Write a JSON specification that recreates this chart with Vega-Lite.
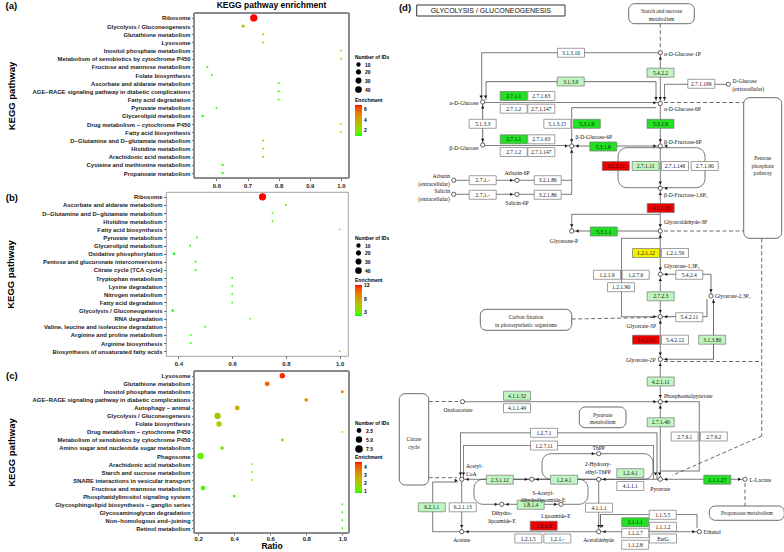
{
  "$schema": "https://vega.github.io/schema/vega-lite/v6.json",
  "padding": {"left": 5, "top": 0, "right": 0, "bottom": 0},
  "background": "white",
  "config": {
    "font": "Liberation Sans",
    "view": {"stroke": "#8a8a8a", "strokeWidth": 0.8},
    "axis": {"labelFont": "Liberation Sans", "labelFontWeight": "bold", "labelFontSize": 5.9, "labelColor": "#1a1a1a", "tickSize": 2.5, "tickColor": "#333", "tickWidth": 0.7, "domain": false, "grid": false, "titleFont": "Liberation Sans", "titleFontWeight": "bold", "titleFontSize": 9.5, "titleColor": "#000", "labelPadding": 1.5},
    "legend": {"titleFontSize": 5, "labelFontSize": 5, "titleFontWeight": "bold", "labelFontWeight": "bold", "titlePadding": 2, "gradientThickness": 7, "gradientLength": 31, "gradientStrokeWidth": 0, "rowPadding": -4.5, "labelOffset": 3, "symbolOffset": 0},
    "title": {"font": "Liberation Sans", "fontWeight": "bold", "fontSize": 9.5, "color": "#000"}
  },
  "datasets": {
    "a": [
      {"pathway": "Ribosome", "ratio": 0.72, "ids": 80, "enrichment": 6.8},
      {"pathway": "Glycolysis / Gluconeogenesis", "ratio": 0.686, "ids": 14, "enrichment": 2.6},
      {"pathway": "Glutathione metabolism", "ratio": 0.75, "ids": 3, "enrichment": 1.3},
      {"pathway": "Lysosome", "ratio": 0.75, "ids": 3, "enrichment": 1.3},
      {"pathway": "Inositol phosphate metabolism", "ratio": 1.0, "ids": 2, "enrichment": 1.6},
      {"pathway": "Metabolism of xenobiotics by cytochrome P450", "ratio": 1.0, "ids": 2, "enrichment": 1.6},
      {"pathway": "Fructose and mannose metabolism", "ratio": 0.571, "ids": 4, "enrichment": 1.0},
      {"pathway": "Folate biosynthesis", "ratio": 0.585, "ids": 4, "enrichment": 1.0},
      {"pathway": "Ascorbate and aldarate metabolism", "ratio": 0.8, "ids": 4, "enrichment": 1.3},
      {"pathway": "AGE−RAGE signaling pathway in diabetic complications", "ratio": 0.8, "ids": 4, "enrichment": 1.3},
      {"pathway": "Fatty acid degradation", "ratio": 0.8, "ids": 4, "enrichment": 1.3},
      {"pathway": "Pyruvate metabolism", "ratio": 0.6, "ids": 3, "enrichment": 1.0},
      {"pathway": "Glycerolipid metabolism", "ratio": 0.556, "ids": 5, "enrichment": 0.9},
      {"pathway": "Drug metabolism − cytochrome P450", "ratio": 1.0, "ids": 2, "enrichment": 1.6},
      {"pathway": "Fatty acid biosynthesis", "ratio": 1.0, "ids": 2, "enrichment": 1.6},
      {"pathway": "D−Glutamine and D−glutamate metabolism", "ratio": 0.75, "ids": 3, "enrichment": 1.3},
      {"pathway": "Histidine metabolism", "ratio": 0.75, "ids": 3, "enrichment": 1.3},
      {"pathway": "Arachidonic acid metabolism", "ratio": 0.75, "ids": 3, "enrichment": 1.3},
      {"pathway": "Cysteine and methionine metabolism", "ratio": 0.62, "ids": 5, "enrichment": 1.0},
      {"pathway": "Propanoate metabolism", "ratio": 0.62, "ids": 5, "enrichment": 1.0}
    ],
    "b": [
      {"pathway": "Ribosome", "ratio": 0.713, "ids": 80, "enrichment": 12.6},
      {"pathway": "Ascorbate and aldarate metabolism", "ratio": 0.8, "ids": 4, "enrichment": 2.0},
      {"pathway": "D−Glutamine and D−glutamate metabolism", "ratio": 0.75, "ids": 3, "enrichment": 1.9},
      {"pathway": "Histidine metabolism", "ratio": 0.75, "ids": 3, "enrichment": 1.9},
      {"pathway": "Fatty acid biosynthesis", "ratio": 1.0, "ids": 2, "enrichment": 2.5},
      {"pathway": "Pyruvate metabolism", "ratio": 0.469, "ids": 4, "enrichment": 1.2},
      {"pathway": "Glycerolipid metabolism", "ratio": 0.444, "ids": 4, "enrichment": 1.1},
      {"pathway": "Oxidative phosphorylation", "ratio": 0.384, "ids": 8, "enrichment": 1.0},
      {"pathway": "Pentose and glucuronate interconversions", "ratio": 0.464, "ids": 4, "enrichment": 1.2},
      {"pathway": "Citrate cycle (TCA cycle)", "ratio": 0.464, "ids": 4, "enrichment": 1.2},
      {"pathway": "Tryptophan metabolism", "ratio": 0.6, "ids": 3, "enrichment": 1.5},
      {"pathway": "Lysine degradation", "ratio": 0.6, "ids": 3, "enrichment": 1.5},
      {"pathway": "Nitrogen metabolism", "ratio": 0.6, "ids": 3, "enrichment": 1.5},
      {"pathway": "Fatty acid degradation", "ratio": 0.6, "ids": 3, "enrichment": 1.5},
      {"pathway": "Glycolysis / Gluconeogenesis", "ratio": 0.379, "ids": 7, "enrichment": 1.0},
      {"pathway": "RNA degradation", "ratio": 0.667, "ids": 2, "enrichment": 1.7},
      {"pathway": "Valine, leucine and isoleucine degradation", "ratio": 0.5, "ids": 3, "enrichment": 1.3},
      {"pathway": "Arginine and proline metabolism", "ratio": 0.446, "ids": 3, "enrichment": 1.1},
      {"pathway": "Arginine biosynthesis", "ratio": 0.446, "ids": 3, "enrichment": 1.1},
      {"pathway": "Biosynthesis of unsaturated fatty acids", "ratio": 1.0, "ids": 2, "enrichment": 2.5}
    ],
    "c": [
      {"pathway": "Lysosome", "ratio": 0.667, "ids": 6, "enrichment": 4.5},
      {"pathway": "Glutathione metabolism", "ratio": 0.583, "ids": 5, "enrichment": 3.9},
      {"pathway": "Inositol phosphate metabolism", "ratio": 1.0, "ids": 2, "enrichment": 3.6},
      {"pathway": "AGE−RAGE signaling pathway in diabetic complications", "ratio": 0.8, "ids": 3, "enrichment": 3.0},
      {"pathway": "Autophagy − animal", "ratio": 0.417, "ids": 5, "enrichment": 2.5},
      {"pathway": "Glycolysis / Gluconeogenesis", "ratio": 0.308, "ids": 8, "enrichment": 2.2},
      {"pathway": "Folate biosynthesis", "ratio": 0.316, "ids": 6, "enrichment": 2.0},
      {"pathway": "Drug metabolism − cytochrome P450", "ratio": 1.0, "ids": 1, "enrichment": 1.5},
      {"pathway": "Metabolism of xenobiotics by cytochrome P450", "ratio": 0.667, "ids": 2, "enrichment": 1.2},
      {"pathway": "Amino sugar and nucleotide sugar metabolism", "ratio": 0.333, "ids": 3, "enrichment": 1.4},
      {"pathway": "Phagosome", "ratio": 0.213, "ids": 8, "enrichment": 1.1},
      {"pathway": "Arachidonic acid metabolism", "ratio": 0.5, "ids": 1, "enrichment": 1.1},
      {"pathway": "Starch and sucrose metabolism", "ratio": 0.5, "ids": 1, "enrichment": 1.1},
      {"pathway": "SNARE interactions in vesicular transport", "ratio": 0.5, "ids": 1, "enrichment": 1.1},
      {"pathway": "Fructose and mannose metabolism", "ratio": 0.227, "ids": 5, "enrichment": 1.0},
      {"pathway": "Phosphatidylinositol signaling system", "ratio": 0.4, "ids": 2, "enrichment": 0.9},
      {"pathway": "Glycosphingolipid biosynthesis − ganglio series", "ratio": 1.0, "ids": 1, "enrichment": 0.8},
      {"pathway": "Glycosaminoglycan degradation", "ratio": 1.0, "ids": 1, "enrichment": 0.8},
      {"pathway": "Non−homologous end−joining", "ratio": 1.0, "ids": 1, "enrichment": 0.8},
      {"pathway": "Retinol metabolism", "ratio": 1.0, "ids": 1, "enrichment": 0.8}
    ],
    "enz": [
      {"ec": "3.1.3.10", "x": 175, "y": 51.8, "s": "none"},
      {"ec": "5.4.2.2", "x": 264.5, "y": 71.7, "s": "light"},
      {"ec": "3.1.3.9", "x": 174.7, "y": 80.5, "s": "light"},
      {"ec": "2.7.1.199", "x": 305.3, "y": 82.8, "s": "none"},
      {"ec": "2.7.1.1", "x": 117.7, "y": 95, "s": "strong"},
      {"ec": "2.7.1.63", "x": 145.3, "y": 95, "s": "none"},
      {"ec": "2.7.1.2", "x": 117.7, "y": 107.7, "s": "none"},
      {"ec": "2.7.1.147", "x": 145.3, "y": 107.7, "s": "none"},
      {"ec": "5.1.3.3", "x": 86.7, "y": 122.8, "s": "none"},
      {"ec": "5.1.3.15", "x": 161.3, "y": 122.8, "s": "none"},
      {"ec": "5.3.1.9", "x": 190.8, "y": 122.8, "s": "strong"},
      {"ec": "5.3.1.9", "x": 264.5, "y": 122.8, "s": "strong"},
      {"ec": "2.7.1.1", "x": 117.7, "y": 138.3, "s": "strong"},
      {"ec": "2.7.1.63", "x": 145.3, "y": 138.3, "s": "none"},
      {"ec": "2.7.1.2", "x": 117.7, "y": 151, "s": "none"},
      {"ec": "2.7.1.147", "x": 145.3, "y": 151, "s": "none"},
      {"ec": "5.3.1.9", "x": 207.3, "y": 145.5, "s": "strong"},
      {"ec": "3.1.3.11", "x": 219.8, "y": 165, "s": "red"},
      {"ec": "2.7.1.11", "x": 249.7, "y": 165, "s": "light"},
      {"ec": "2.7.1.146", "x": 279, "y": 165, "s": "none"},
      {"ec": "2.7.1.90", "x": 308.7, "y": 165, "s": "none"},
      {"ec": "2.7.1.-", "x": 86.7, "y": 179.2, "s": "none"},
      {"ec": "3.2.1.86", "x": 151.7, "y": 179.2, "s": "none"},
      {"ec": "2.7.1.-", "x": 86.7, "y": 193.8, "s": "none"},
      {"ec": "3.2.1.86", "x": 151.7, "y": 193.8, "s": "none"},
      {"ec": "4.1.2.13", "x": 264.7, "y": 207, "s": "red"},
      {"ec": "5.3.1.1", "x": 207.8, "y": 230.5, "s": "strong"},
      {"ec": "1.2.1.12", "x": 250, "y": 252, "s": "yellow"},
      {"ec": "1.2.1.59", "x": 279, "y": 252, "s": "none"},
      {"ec": "1.2.1.9", "x": 211, "y": 273.8, "s": "none"},
      {"ec": "1.2.7.6", "x": 239.7, "y": 273.8, "s": "none"},
      {"ec": "5.4.2.4", "x": 293.3, "y": 273.8, "s": "none"},
      {"ec": "1.2.1.90", "x": 225, "y": 286.2, "s": "none"},
      {"ec": "2.7.2.3", "x": 264.7, "y": 295.3, "s": "light"},
      {"ec": "5.4.2.11", "x": 293.3, "y": 316.2, "s": "none"},
      {"ec": "5.4.2.11", "x": 250, "y": 338.7, "s": "red"},
      {"ec": "5.4.2.12", "x": 279, "y": 338.7, "s": "none"},
      {"ec": "3.1.3.80", "x": 316.2, "y": 338.7, "s": "light"},
      {"ec": "4.2.1.11", "x": 264.7, "y": 380.5, "s": "light"},
      {"ec": "4.1.1.32", "x": 121, "y": 394.7, "s": "light"},
      {"ec": "4.1.1.49", "x": 121, "y": 407.2, "s": "none"},
      {"ec": "2.7.1.40", "x": 264.7, "y": 421.3, "s": "light"},
      {"ec": "2.7.9.1", "x": 288.7, "y": 435.5, "s": "none"},
      {"ec": "2.7.9.2", "x": 317.8, "y": 435.5, "s": "none"},
      {"ec": "1.2.7.1", "x": 148, "y": 431.8, "s": "none"},
      {"ec": "1.2.7.11", "x": 148, "y": 444.5, "s": "none"},
      {"ec": "1.2.4.1", "x": 234.3, "y": 472.2, "s": "light"},
      {"ec": "4.1.1.1", "x": 234.3, "y": 485, "s": "none"},
      {"ec": "1.1.1.27", "x": 321.3, "y": 478.7, "s": "strong"},
      {"ec": "2.3.1.12", "x": 103.8, "y": 478.7, "s": "light"},
      {"ec": "1.2.4.1", "x": 168, "y": 478.7, "s": "light"},
      {"ec": "1.8.1.4", "x": 134.7, "y": 503.8, "s": "light"},
      {"ec": "4.1.1.1", "x": 203, "y": 506.7, "s": "none"},
      {"ec": "6.2.1.1", "x": 35.8, "y": 506.3, "s": "light"},
      {"ec": "6.2.1.13", "x": 66.7, "y": 506.3, "s": "none"},
      {"ec": "1.2.1.3", "x": 147.7, "y": 524.7, "s": "red"},
      {"ec": "1.2.1.5", "x": 132.3, "y": 537.5, "s": "none"},
      {"ec": "1.2.1.-", "x": 161.3, "y": 537.5, "s": "none"},
      {"ec": "1.1.5.5", "x": 266.7, "y": 513.8, "s": "none"},
      {"ec": "1.1.1.1", "x": 239.2, "y": 521.3, "s": "strong"},
      {"ec": "1.1.1.2", "x": 267, "y": 525.8, "s": "none"},
      {"ec": "1.1.2.7", "x": 239.2, "y": 532.2, "s": "none"},
      {"ec": "EutG", "x": 267, "y": 537.5, "s": "none"},
      {"ec": "1.1.2.8", "x": 239.2, "y": 543.8, "s": "none"}
    ],
    "cmp": [
      {"name": "α-D-Glucose-1P", "x": 264.3, "y": 51.7}, {"name": "D-Glucose ext", "x": 332.3, "y": 83.3},
      {"name": "α-D-Glucose", "x": 86.7, "y": 101}, {"name": "α-D-Glucose-6P", "x": 264.3, "y": 102.5},
      {"name": "β-D-Glucose", "x": 86.7, "y": 144}, {"name": "β-D-Glucose-6P", "x": 175.7, "y": 145},
      {"name": "β-D-Fructose-6P", "x": 264.3, "y": 145}, {"name": "Arbutin", "x": 57.7, "y": 179.3},
      {"name": "Arbutin-6P", "x": 121, "y": 179.3}, {"name": "Salicin", "x": 57.7, "y": 193.3},
      {"name": "Salicin-6P", "x": 121, "y": 193.3}, {"name": "β-D-Fructose-1,6P2", "x": 264.3, "y": 187.3},
      {"name": "Glyceraldehyde-3P", "x": 264.3, "y": 230}, {"name": "Glycerone-P", "x": 175.7, "y": 230},
      {"name": "Glycerate-1,3P2", "x": 264.3, "y": 273.3}, {"name": "Glycerate-2,3P2", "x": 315, "y": 295},
      {"name": "Glycerate-3P", "x": 264.3, "y": 315.7}, {"name": "Glycerate-2P", "x": 264.3, "y": 358.3},
      {"name": "Phosphoenolpyruvate", "x": 264.3, "y": 400.7}, {"name": "Oxaloacetate", "x": 66.5, "y": 400.7},
      {"name": "ThPP", "x": 202.7, "y": 452.7}, {"name": "2-Hydroxy-ethyl-ThPP", "x": 202.7, "y": 478.3},
      {"name": "Pyruvate", "x": 264.3, "y": 478.3}, {"name": "L-Lactate", "x": 349, "y": 478.3},
      {"name": "Acetyl-CoA", "x": 65.7, "y": 478.3}, {"name": "S-Acetyl-dihydrolipoamide-E", "x": 135.7, "y": 478.3},
      {"name": "Dihydrolipoamide-E", "x": 105.7, "y": 503.3}, {"name": "Lipoamide-E", "x": 165, "y": 503.3},
      {"name": "Acetate", "x": 65.7, "y": 530.7}, {"name": "Acetaldehyde", "x": 202.7, "y": 530.7},
      {"name": "Ethanol", "x": 303.3, "y": 530.7}
    ],
    "arr": [
      {"x": 85.2, "y": 96, "d": "down"}, {"x": 89.5, "y": 96, "d": "down"},
      {"x": 264.3, "y": 57, "d": "up"},
      {"x": 260, "y": 97.5, "d": "down"}, {"x": 264.3, "y": 97.5, "d": "down"}, {"x": 268.5, "y": 97.5, "d": "down"},
      {"x": 258.8, "y": 101.8, "d": "right"},
      {"x": 86.7, "y": 106, "d": "up"}, {"x": 86.7, "y": 139.3, "d": "down"},
      {"x": 170.3, "y": 145, "d": "right"}, {"x": 181.2, "y": 145, "d": "left"}, {"x": 175.7, "y": 139.8, "d": "down"}, {"x": 175.7, "y": 150.3, "d": "up"},
      {"x": 258.8, "y": 145, "d": "right"}, {"x": 264.3, "y": 139.8, "d": "down"}, {"x": 269.8, "y": 145, "d": "left"},
      {"x": 264.3, "y": 182, "d": "down"}, {"x": 269.8, "y": 187.3, "d": "left"}, {"x": 264.3, "y": 192.6, "d": "up"},
      {"x": 115.6, "y": 179.3, "d": "right"}, {"x": 115.6, "y": 193.3, "d": "right"},
      {"x": 264.3, "y": 224.8, "d": "down"}, {"x": 264.3, "y": 235.3, "d": "up"},
      {"x": 181.2, "y": 230, "d": "left"}, {"x": 175.7, "y": 224.8, "d": "down"},
      {"x": 264.3, "y": 268, "d": "down"}, {"x": 264.3, "y": 278.6, "d": "up"}, {"x": 269.8, "y": 273.3, "d": "left"},
      {"x": 315, "y": 289.8, "d": "down"}, {"x": 317.5, "y": 300.3, "d": "up"},
      {"x": 264.3, "y": 310.4, "d": "down"}, {"x": 264.3, "y": 321, "d": "up"}, {"x": 269.8, "y": 315.7, "d": "left"}, {"x": 258.8, "y": 315.7, "d": "right"},
      {"x": 264.3, "y": 353, "d": "down"}, {"x": 264.3, "y": 363.6, "d": "up"}, {"x": 269.8, "y": 358.3, "d": "left"},
      {"x": 264.3, "y": 395.4, "d": "down"}, {"x": 264.3, "y": 406, "d": "up"}, {"x": 258.8, "y": 400.7, "d": "right"}, {"x": 269.8, "y": 400.7, "d": "left"},
      {"x": 259.5, "y": 473, "d": "down"}, {"x": 263.5, "y": 473, "d": "down"}, {"x": 269.8, "y": 478.3, "d": "left"},
      {"x": 343.5, "y": 478.3, "d": "right"},
      {"x": 64.5, "y": 473, "d": "down"}, {"x": 67.5, "y": 473, "d": "down"}, {"x": 71.2, "y": 478.3, "d": "left"}, {"x": 60.2, "y": 479.5, "d": "right"},
      {"x": 130.2, "y": 478.3, "d": "right"}, {"x": 141.2, "y": 478.3, "d": "left"},
      {"x": 208.2, "y": 478.3, "d": "left"}, {"x": 197.2, "y": 452.7, "d": "right"},
      {"x": 100.2, "y": 503.3, "d": "right"}, {"x": 111.2, "y": 503.3, "d": "left"}, {"x": 159.5, "y": 503.3, "d": "right"},
      {"x": 65.7, "y": 525.4, "d": "down"}, {"x": 71.2, "y": 530.7, "d": "left"},
      {"x": 202.7, "y": 525.4, "d": "down"}, {"x": 206, "y": 525.4, "d": "down"}, {"x": 208.2, "y": 530.7, "d": "left"},
      {"x": 297.8, "y": 530.7, "d": "right"}
    ],
    "lbl": [
      {"t": "α-D-Glucose-1P", "x": 268, "y": 52.5, "al": "left"},
      {"t": "D-Glucose\n(extracellular)", "x": 336.5, "y": 80, "al": "left"},
      {"t": "α-D-Glucose", "x": 82.5, "y": 101.5, "al": "right"},
      {"t": "α-D-Glucose-6P", "x": 268, "y": 108.3, "al": "left"},
      {"t": "β-D-Glucose", "x": 82.5, "y": 146.5, "al": "right"},
      {"t": "β-D-Glucose-6P", "x": 179.5, "y": 135.5, "al": "left"},
      {"t": "β-D-Fructose-6P", "x": 268, "y": 140.5, "al": "left"},
      {"t": "Arbutin\n(extracellular)", "x": 54, "y": 175, "al": "right"},
      {"t": "Arbutin-6P", "x": 121, "y": 172, "al": "center"},
      {"t": "Salicin\n(extracellular)", "x": 54, "y": 190, "al": "right"},
      {"t": "Salicin-6P", "x": 121, "y": 201.5, "al": "center"},
      {"t": "β-D-Fructose-1,6P₂", "x": 268, "y": 193.5, "al": "left"},
      {"t": "Glyceraldehyde-3P", "x": 268, "y": 221, "al": "left"},
      {"t": "Glycerone-P", "x": 168, "y": 239.5, "al": "center"},
      {"t": "Glycerate-1,3P₂", "x": 268, "y": 265, "al": "left"},
      {"t": "Glycerate-2,3P₂", "x": 319, "y": 295, "al": "left"},
      {"t": "Glycerate-3P", "x": 260, "y": 325, "al": "right"},
      {"t": "Glycerate-2P", "x": 259.5, "y": 358.5, "al": "right"},
      {"t": "Phosphoenolpyruvate", "x": 268, "y": 394.5, "al": "left"},
      {"t": "Oxaloacetate", "x": 62, "y": 408.5, "al": "center"},
      {"t": "ThPP", "x": 202.7, "y": 446.5, "al": "center"},
      {"t": "2-Hydroxy-\nethyl-ThPP", "x": 202, "y": 463, "al": "center"},
      {"t": "Pyruvate", "x": 264.3, "y": 487.5, "al": "center"},
      {"t": "L-Lactate", "x": 353.5, "y": 478.5, "al": "left"},
      {"t": "Acetyl-\nCoA", "x": 70, "y": 465, "al": "left"},
      {"t": "S-Acetyl-\ndihydrolipoamide-E", "x": 147, "y": 491.7, "al": "center"},
      {"t": "Dihydro-\nlipoamide-E", "x": 106, "y": 512, "al": "center"},
      {"t": "Lipoamide-E", "x": 160, "y": 515, "al": "center"},
      {"t": "Acetate", "x": 65.7, "y": 538.5, "al": "center"},
      {"t": "Acetaldehyde", "x": 202.7, "y": 538.8, "al": "center"},
      {"t": "Ethanol", "x": 307.5, "y": 531, "al": "left"}
    ],
    "maps": [
      {"t": "Starch and sucrose\nmetabolism", "x": 232.7, "x2": 298.3, "y": 2.7, "y2": 22.7, "cx": 265.5, "cy": 10},
      {"t": "Pentose\nphosphate\npathway", "x": 347.7, "x2": 385.7, "y": 96.7, "y2": 237.3, "cx": 366.7, "cy": 157},
      {"t": "Carbon fixation\nin photosynthetic organisms", "x": 84.3, "x2": 175.7, "y": 308.3, "y2": 329.3, "cx": 130, "cy": 316},
      {"t": "Citrate\ncycle", "x": 3.3, "x2": 32.7, "y": 392.7, "y2": 484, "cx": 18, "cy": 438},
      {"t": "Pyruvate\nmetabolism", "x": 183.3, "x2": 230, "y": 406, "y2": 426.7, "cx": 206.7, "cy": 413.5},
      {"t": "Propanoate metabolism", "x": 313.3, "x2": 388.3, "y": 505, "y2": 519.3, "cx": 350.8, "cy": 512.2}
    ],
    "tbox": [
      {"t": "GLYCOLYSIS / GLUCONEOGENESIS", "x": 20.7, "x2": 169, "y": 4, "y2": 15, "cx": 94.8, "cy": 9.7}
    ],
    "plabel": [
      {"t": "(d)", "x": 9, "y": 6.5}
    ],
    "loops": [
      {"x": 222, "x2": 309, "y": 146.7, "y2": 186.7},
      {"x": 146, "x2": 257, "y": 452.7, "y2": 478.3},
      {"x": 78, "x2": 192, "y": 478.3, "y2": 503.3}
    ],
    "lines": [
      {"x": 264.3, "y": 51.7, "x2": 264.3, "y2": 478.3, "t": "solid"},
      {"x": 264.3, "y": 51.7, "x2": 85.7, "y2": 51.7, "t": "solid"},
      {"x": 85.7, "y": 51.7, "x2": 85.7, "y2": 99, "t": "solid"},
      {"x": 90, "y": 80.7, "x2": 260, "y2": 80.7, "t": "solid"},
      {"x": 90, "y": 80.7, "x2": 90, "y2": 99, "t": "solid"},
      {"x": 260, "y": 80.7, "x2": 260, "y2": 100, "t": "solid"},
      {"x": 332.3, "y": 83.3, "x2": 268.5, "y2": 83.3, "t": "solid"},
      {"x": 268.5, "y": 83.3, "x2": 268.5, "y2": 100, "t": "solid"},
      {"x": 86.7, "y": 101.5, "x2": 264.3, "y2": 101.5, "t": "solid"},
      {"x": 86.7, "y": 101, "x2": 86.7, "y2": 144, "t": "solid"},
      {"x": 86.7, "y": 144.5, "x2": 175.7, "y2": 144.5, "t": "solid"},
      {"x": 175.7, "y": 145, "x2": 264.3, "y2": 145, "t": "solid"},
      {"x": 260, "y": 106.7, "x2": 175.7, "y2": 106.7, "t": "solid"},
      {"x": 175.7, "y": 106.7, "x2": 175.7, "y2": 193.3, "t": "solid"},
      {"x": 57.7, "y": 179.3, "x2": 175.7, "y2": 179.3, "t": "solid"},
      {"x": 57.7, "y": 193.3, "x2": 175.7, "y2": 193.3, "t": "solid"},
      {"x": 175.7, "y": 230, "x2": 264.3, "y2": 230, "t": "solid"},
      {"x": 175.7, "y": 213.3, "x2": 264.3, "y2": 213.3, "t": "solid"},
      {"x": 175.7, "y": 213.3, "x2": 175.7, "y2": 230, "t": "solid"},
      {"x": 264.3, "y": 237.3, "x2": 225.5, "y2": 237.3, "t": "solid"},
      {"x": 225.5, "y": 237.3, "x2": 225.5, "y2": 315.7, "t": "solid"},
      {"x": 225.5, "y": 315.7, "x2": 264.3, "y2": 315.7, "t": "solid"},
      {"x": 264.3, "y": 273.3, "x2": 315, "y2": 273.3, "t": "solid"},
      {"x": 315, "y": 273.3, "x2": 315, "y2": 295, "t": "solid"},
      {"x": 311, "y": 298, "x2": 311, "y2": 315.7, "t": "solid"},
      {"x": 311, "y": 315.7, "x2": 264.3, "y2": 315.7, "t": "solid"},
      {"x": 317.5, "y": 298, "x2": 317.5, "y2": 358.3, "t": "solid"},
      {"x": 317.5, "y": 358.3, "x2": 264.3, "y2": 358.3, "t": "solid"},
      {"x": 66.5, "y": 400.7, "x2": 264.3, "y2": 400.7, "t": "solid"},
      {"x": 264.3, "y": 400.7, "x2": 303.3, "y2": 400.7, "t": "solid"},
      {"x": 303.3, "y": 400.7, "x2": 303.3, "y2": 470, "t": "solid"},
      {"x": 303.3, "y": 470, "x2": 264.3, "y2": 470, "t": "solid"},
      {"x": 64.5, "y": 431.8, "x2": 261, "y2": 431.8, "t": "solid"},
      {"x": 64.5, "y": 431.8, "x2": 64.5, "y2": 478.3, "t": "solid"},
      {"x": 261, "y": 431.8, "x2": 261, "y2": 478.3, "t": "solid"},
      {"x": 67.5, "y": 444.5, "x2": 257.5, "y2": 444.5, "t": "solid"},
      {"x": 67.5, "y": 444.5, "x2": 67.5, "y2": 478.3, "t": "solid"},
      {"x": 257.5, "y": 444.5, "x2": 257.5, "y2": 478.3, "t": "solid"},
      {"x": 65.7, "y": 478.3, "x2": 349, "y2": 478.3, "t": "solid"},
      {"x": 65.7, "y": 478.3, "x2": 65.7, "y2": 530.7, "t": "solid"},
      {"x": 65.7, "y": 530.7, "x2": 36.7, "y2": 530.7, "t": "solid"},
      {"x": 36.7, "y": 530.7, "x2": 36.7, "y2": 481, "t": "solid"},
      {"x": 36.7, "y": 481, "x2": 62, "y2": 481, "t": "solid"},
      {"x": 65.7, "y": 530.7, "x2": 303.3, "y2": 530.7, "t": "solid"},
      {"x": 202.7, "y": 478.3, "x2": 202.7, "y2": 530.7, "t": "solid"},
      {"x": 204.5, "y": 527, "x2": 204.5, "y2": 513.5, "t": "solid"},
      {"x": 204.5, "y": 513.5, "x2": 301, "y2": 513.5, "t": "solid"},
      {"x": 301, "y": 513.5, "x2": 301, "y2": 527, "t": "solid"},
      {"x": 264.3, "y": 22.7, "x2": 264.3, "y2": 49, "t": "dashed"},
      {"x": 268, "y": 101.5, "x2": 347.7, "y2": 101.5, "t": "dashed"},
      {"x": 268, "y": 230, "x2": 347.7, "y2": 230, "t": "dashed"},
      {"x": 365.7, "y": 237.3, "x2": 365.7, "y2": 435, "t": "dashed"},
      {"x": 268, "y": 360.5, "x2": 365.7, "y2": 360.5, "t": "dashed"},
      {"x": 365.7, "y": 435, "x2": 276, "y2": 474.5, "t": "dashed"},
      {"x": 175.7, "y": 318, "x2": 260, "y2": 316.5, "t": "dashed"},
      {"x": 32.7, "y": 400.5, "x2": 62, "y2": 400.5, "t": "dashed"},
      {"x": 32.7, "y": 476.7, "x2": 61, "y2": 476.7, "t": "dashed"},
      {"x": 349, "y": 482, "x2": 349, "y2": 505, "t": "dashed"}
    ]
  },
  "concat": [
    {
      "title": {"text": "(a)", "anchor": "start", "frame": "bounds", "offset": 0, "dy": 9},
      "vconcat": [
        {
          "width": 183, "height": 165,
          "view": {"stroke": null},
          "title": {"text": "KEGG pathway enrichment", "anchor": "middle", "fontSize": 8.5, "offset": 3, "dx": 14},
          "data": {"name": "a"},
          "layer": [
            {
              "mark": {"type": "rect", "filled": false, "stroke": "#8a8a8a", "strokeWidth": 0.8},
              "encoding": {
                "x": {"datum": 0.528, "type": "quantitative", "scale": {"domain": [0.528, 1.026], "range": [28, 183], "nice": false, "zero": false}},
                "x2": {"datum": 1.026},
                "y": {"value": 0},
                "y2": {"value": 165}
              }
            },
            {
              "mark": {"type": "circle", "opacity": 1},
              "encoding": {
                "x": {"field": "ratio", "type": "quantitative", "scale": {"domain": [0.528, 1.026], "range": [28, 183], "nice": false, "zero": false}, "axis": {"values": [0.6, 0.7, 0.8, 0.9, 1.0], "format": ".1f", "title": null}},
                "y": {"field": "pathway", "type": "nominal", "sort": null, "scale": {"type": "point", "padding": 0.6}, "axis": {"title": "KEGG pathway", "titlePadding": 16, "offset": -28}},
                "size": {"field": "ids", "type": "quantitative", "scale": {"domain": [1, 80], "range": [2.5, 52]}, "legend": {"title": "Number of IDs", "values": [10, 20, 30, 40], "orient": "none", "legendX": 189, "legendY": 42, "symbolFillColor": "black", "symbolStrokeColor": "black"}},
                "color": {"field": "enrichment", "type": "quantitative", "scale": {"domain": [0.9, 6.8], "range": ["#00ff00", "#ff0000"], "interpolate": "lab"}, "legend": {"title": "Enrichment", "values": [2, 4, 6], "orient": "none", "legendX": 189, "legendY": 85}}
              }
            }
          ]
        },
        {
          "width": 182, "height": 164,
          "title": {"text": "(b)", "anchor": "start", "frame": "bounds", "dy": 14},
          "data": {"name": "b"},
          "mark": {"type": "circle", "opacity": 1},
          "encoding": {
            "x": {"field": "ratio", "type": "quantitative", "scale": {"domain": [0.354, 1.031], "nice": false, "zero": false}, "axis": {"values": [0.4, 0.6, 0.8, 1.0], "format": ".1f", "title": null}},
            "y": {"field": "pathway", "type": "nominal", "sort": null, "scale": {"type": "point", "padding": 0.6}, "axis": {"title": "KEGG pathway", "titlePadding": 26}},
            "size": {"field": "ids", "type": "quantitative", "scale": {"domain": [1, 80], "range": [2.5, 52]}, "legend": {"title": "Number of IDs", "values": [10, 20, 30, 40], "orient": "none", "legendX": 189, "legendY": 44, "symbolFillColor": "black", "symbolStrokeColor": "black"}},
            "color": {"field": "enrichment", "type": "quantitative", "scale": {"domain": [1.0, 12.6], "range": ["#00ff00", "#ff0000"], "interpolate": "lab"}, "legend": {"title": "Enrichment", "values": [2.5, 7.5, 12.5], "orient": "none", "legendX": 189, "legendY": 86}}
          }
        },
        {
          "width": 183, "height": 162,
          "view": {"stroke": null},
          "title": {"text": "(c)", "anchor": "start", "frame": "bounds", "dy": 14},
          "data": {"name": "c"},
          "layer": [
            {
              "mark": {"type": "rect", "filled": false, "stroke": "#8a8a8a", "strokeWidth": 0.8},
              "encoding": {
                "x": {"datum": 0.177, "type": "quantitative", "scale": {"domain": [0.177, 1.037], "range": [28, 183], "nice": false, "zero": false}},
                "x2": {"datum": 1.037},
                "y": {"value": 0},
                "y2": {"value": 162}
              }
            },
            {
              "mark": {"type": "circle", "opacity": 1},
              "encoding": {
                "x": {"field": "ratio", "type": "quantitative", "scale": {"domain": [0.177, 1.037], "range": [28, 183], "nice": false, "zero": false}, "axis": {"values": [0.2, 0.4, 0.6, 0.8, 1.0], "format": ".1f", "title": "Ratio", "titlePadding": 0, "titleFontSize": 8.5, "labelPadding": 0.5, "tickSize": 2}},
                "y": {"field": "pathway", "type": "nominal", "sort": null, "scale": {"type": "point", "padding": 0.6}, "axis": {"title": "KEGG pathway", "titlePadding": 16, "offset": -28}},
                "size": {"field": "ids", "type": "quantitative", "scale": {"domain": [1, 9], "range": [3, 45]}, "legend": {"title": "Number of IDs", "values": [2.5, 5.0, 7.5], "format": ".1f", "orient": "none", "legendX": 189, "legendY": 50, "symbolFillColor": "black", "symbolStrokeColor": "black"}},
                "color": {"field": "enrichment", "type": "quantitative", "scale": {"domain": [0.75, 4.6], "range": ["#00ff00", "#ff0000"], "interpolate": "lab"}, "legend": {"title": "Enrichment", "values": [1, 2, 3, 4], "orient": "none", "legendX": 189, "legendY": 84}}
              }
            }
          ]
        }
      ],
      "spacing": 3,
      "resolve": {"scale": {"color": "independent", "size": "independent", "x": "independent", "y": "independent"}, "legend": {"color": "independent", "size": "independent"}}
    },
    {
      "width": 389, "height": 540,
      "view": {"stroke": null},
      "encoding": {
        "x": {"field": "x", "type": "quantitative", "scale": {"domain": [0, 389], "nice": false, "zero": false}, "axis": null},
        "y": {"field": "y", "type": "quantitative", "scale": {"domain": [12, 552], "nice": false, "zero": false, "reverse": true}, "axis": null}
      },
      "layer": [
        {"data": {"name": "loops"}, "mark": {"type": "rect", "filled": false, "stroke": "#555", "strokeWidth": 0.8, "cornerRadius": 9}, "encoding": {"x2": {"field": "x2"}, "y2": {"field": "y2"}}},
        {"data": {"name": "lines"}, "mark": {"type": "rule", "color": "#444", "strokeWidth": 0.8}, "encoding": {"x2": {"field": "x2"}, "y2": {"field": "y2"}, "strokeDash": {"field": "t", "type": "nominal", "scale": {"domain": ["solid", "dashed"], "range": [[1, 0], [4, 2.5]]}, "legend": null}}},
        {"data": {"name": "maps"}, "mark": {"type": "rect", "fill": "white", "stroke": "#444", "strokeWidth": 0.8, "cornerRadius": 6}, "encoding": {"x2": {"field": "x2"}, "y2": {"field": "y2"}}},
        {"data": {"name": "maps"}, "mark": {"type": "text", "font": "Liberation Serif", "fontSize": 5.5, "lineBreak": "\n", "align": "center", "baseline": "middle", "color": "#222"}, "encoding": {"x": {"field": "cx", "type": "quantitative"}, "y": {"field": "cy", "type": "quantitative"}, "text": {"field": "t"}}},
        {"data": {"name": "tbox"}, "mark": {"type": "rect", "fill": "white", "stroke": "#333", "strokeWidth": 1}, "encoding": {"x2": {"field": "x2"}, "y2": {"field": "y2"}}},
        {"data": {"name": "tbox"}, "mark": {"type": "text", "font": "Liberation Sans", "fontSize": 7, "align": "center", "baseline": "middle", "color": "#111"}, "encoding": {"x": {"field": "cx", "type": "quantitative"}, "y": {"field": "cy", "type": "quantitative"}, "text": {"field": "t"}}},
        {"data": {"name": "plabel"}, "mark": {"type": "text", "font": "Liberation Sans", "fontSize": 9.5, "fontWeight": "bold", "align": "center", "baseline": "middle", "color": "#000"}, "encoding": {"text": {"field": "t"}}},
        {"data": {"name": "arr"}, "mark": {"type": "point", "filled": true, "color": "#111", "size": 11, "opacity": 1}, "encoding": {"shape": {"field": "d", "type": "nominal", "scale": {"domain": ["down", "up", "left", "right"], "range": ["triangle-down", "triangle-up", "triangle-left", "triangle-right"]}, "legend": null}}},
        {"data": {"name": "cmp"}, "mark": {"type": "point", "shape": "circle", "filled": true, "fill": "white", "stroke": "#222", "strokeWidth": 0.7, "size": 18, "opacity": 1}, "encoding": {}},
        {"data": {"name": "enz"}, "mark": {"type": "point", "shape": "M-1,-0.333H1V0.333H-1Z", "size": 729, "filled": true, "stroke": "#777", "strokeWidth": 0.7, "opacity": 1}, "encoding": {"fill": {"field": "s", "type": "nominal", "scale": {"domain": ["strong", "light", "red", "yellow", "none"], "range": ["#22e022", "#bff5bf", "#ee0000", "#f2f200", "#ffffff"]}, "legend": null}}},
        {"data": {"name": "enz"}, "mark": {"type": "text", "font": "Liberation Serif", "fontSize": 5.5, "align": "center", "baseline": "middle", "color": "#111"}, "encoding": {"text": {"field": "ec"}}},
        {"data": {"name": "lbl"}, "transform": [{"filter": "datum.al == 'left'"}], "mark": {"type": "text", "font": "Liberation Serif", "fontSize": 5.6, "lineBreak": "\n", "align": "left", "baseline": "middle", "color": "#111"}, "encoding": {"text": {"field": "t"}}},
        {"data": {"name": "lbl"}, "transform": [{"filter": "datum.al == 'right'"}], "mark": {"type": "text", "font": "Liberation Serif", "fontSize": 5.6, "lineBreak": "\n", "align": "right", "baseline": "middle", "color": "#111"}, "encoding": {"text": {"field": "t"}}},
        {"data": {"name": "lbl"}, "transform": [{"filter": "datum.al == 'center'"}], "mark": {"type": "text", "font": "Liberation Serif", "fontSize": 5.6, "lineBreak": "\n", "align": "center", "baseline": "middle", "color": "#111"}, "encoding": {"text": {"field": "t"}}}
      ]
    }
  ],
  "columns": 2,
  "align": "none",
  "spacing": 5,
  "resolve": {"scale": {"color": "independent", "size": "independent"}, "legend": {"color": "independent", "size": "independent"}}
}
